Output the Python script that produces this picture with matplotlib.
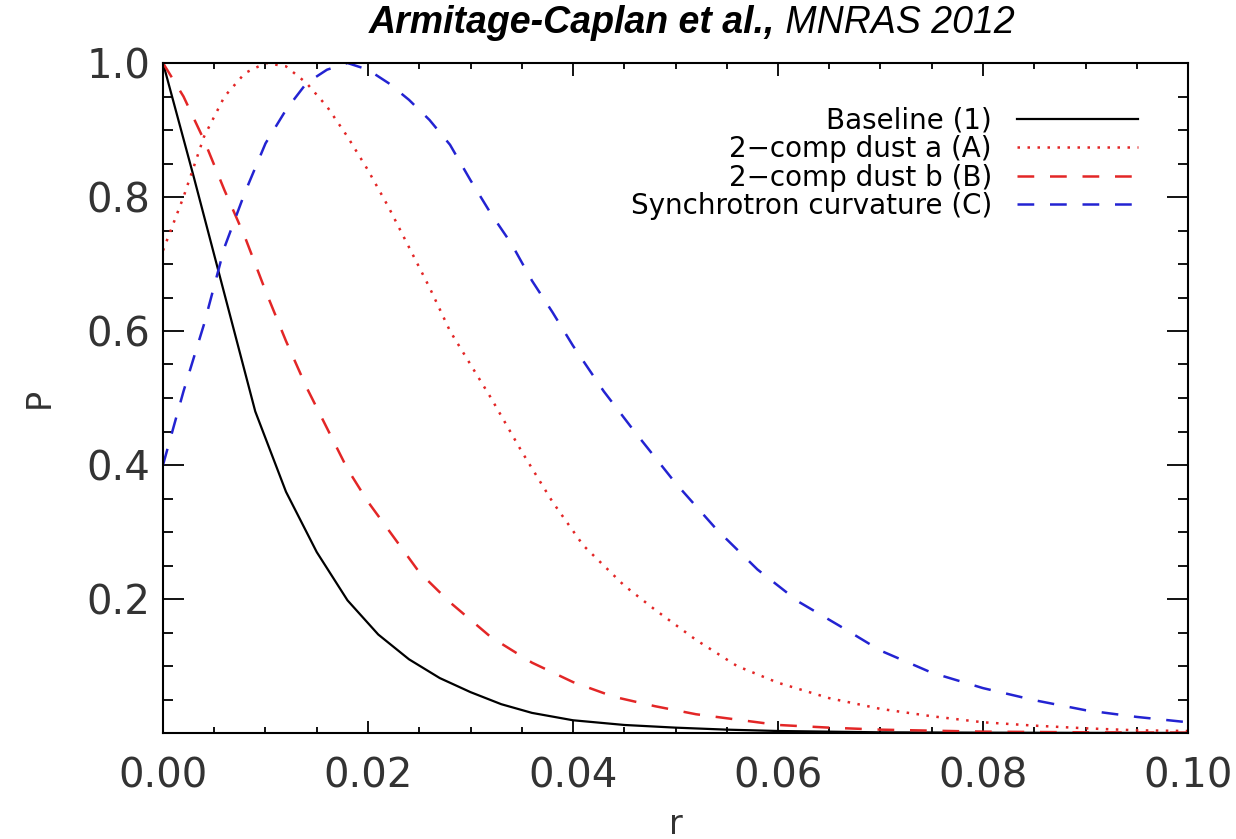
import numpy as np
import matplotlib
matplotlib.use("Agg")
import matplotlib.pyplot as plt
from matplotlib.ticker import MultipleLocator, FormatStrFormatter

# values
r_base = [0, 0.003, 0.006, 0.009, 0.012, 0.015, 0.018, 0.021, 0.024, 0.027, 0.030,
          0.033, 0.036, 0.040, 0.045, 0.050, 0.055, 0.060, 0.070, 0.080, 0.090, 0.100]
p_base = [1.0, 0.83, 0.655, 0.48, 0.36, 0.27, 0.198, 0.147, 0.11, 0.082, 0.061,
          0.043, 0.030, 0.019, 0.012, 0.008, 0.005, 0.003, 0.001, 0.0005, 0.0002, 0.0001]

r_a = [0, 0.002, 0.004, 0.006, 0.008, 0.010, 0.012, 0.014, 0.016, 0.018, 0.020,
       0.022, 0.024, 0.026, 0.028, 0.030, 0.032, 0.035, 0.038, 0.041, 0.045, 0.048,
       0.052, 0.056, 0.060, 0.065, 0.070, 0.075, 0.080, 0.085, 0.090, 0.095, 0.100]
p_a = [0.72, 0.80, 0.89, 0.95, 0.985, 1.0, 0.995, 0.97, 0.935, 0.89, 0.84,
       0.785, 0.725, 0.665, 0.60, 0.55, 0.50, 0.42, 0.345, 0.28, 0.22, 0.184,
       0.139, 0.10, 0.075, 0.052, 0.036, 0.025, 0.016, 0.011, 0.007, 0.004, 0.003]

r_b = [0, 0.002, 0.004, 0.006, 0.008, 0.010, 0.012, 0.014, 0.016, 0.018, 0.020,
       0.022, 0.025, 0.028, 0.032, 0.036, 0.040, 0.044, 0.048, 0.052, 0.056, 0.060,
       0.065, 0.070, 0.080, 0.090, 0.100]
p_b = [1.0, 0.95, 0.885, 0.81, 0.74, 0.66, 0.585, 0.516, 0.455, 0.394, 0.345,
       0.303, 0.24, 0.195, 0.143, 0.105, 0.076, 0.054, 0.04, 0.028, 0.02, 0.012,
       0.008, 0.005, 0.002, 0.001, 0.0005]

r_c = [0, 0.002, 0.004, 0.006, 0.008, 0.010, 0.012, 0.014, 0.016, 0.018, 0.020,
       0.022, 0.024, 0.026, 0.028, 0.030, 0.032, 0.034, 0.036, 0.038, 0.040, 0.043,
       0.046, 0.050, 0.054, 0.058, 0.062, 0.066, 0.070, 0.075, 0.080, 0.085, 0.090,
       0.095, 0.100]
p_c = [0.40, 0.51, 0.61, 0.725, 0.807, 0.88, 0.93, 0.97, 0.99, 1.0, 0.99,
       0.97, 0.945, 0.915, 0.878, 0.825, 0.775, 0.73, 0.675, 0.628, 0.578, 0.51,
       0.45, 0.373, 0.304, 0.244, 0.196, 0.16, 0.123, 0.09, 0.067, 0.049, 0.034,
       0.024, 0.016]

labels = ["Baseline (1)", "2\u2212comp dust a (A)", "2\u2212comp dust b (B)",
          "Synchrotron curvature (C)"]

red = "#e32626"
blue = "#2323d2"

fig = plt.figure(figsize=(12.36, 8.39), dpi=100)
ax = fig.add_axes([163 / 1236, 1 - 733 / 839, 1025 / 1236, 670 / 839])

ax.plot(r_base, p_base, color="black", lw=1.6, label=labels[0])
ax.plot(r_a, p_a, color=red, lw=1.8, linestyle=(0, (1, 3.0)), label=labels[1])
ax.plot(r_b, p_b, color=red, lw=1.8, linestyle=(0, (6.7, 6.3)), label=labels[2])
ax.plot(r_c, p_c, color=blue, lw=1.8, linestyle=(0, (6.7, 6.3)), label=labels[3])

ax.set_xlim(0, 0.1)
ax.set_ylim(0, 1.0)
ax.xaxis.set_major_locator(MultipleLocator(0.02))
ax.xaxis.set_minor_locator(MultipleLocator(0.005))
ax.set_yticks([0.2, 0.4, 0.6, 0.8, 1.0])
ax.yaxis.set_minor_locator(MultipleLocator(0.05))
ax.xaxis.set_major_formatter(FormatStrFormatter("%.2f"))
ax.yaxis.set_major_formatter(FormatStrFormatter("%.1f"))

ax.tick_params(axis="both", which="both", direction="in", top=True, right=True,
               width=1.3, colors="black", labelcolor="#333333", labelsize=29)
ax.tick_params(axis="x", which="major", length=9, pad=17)
ax.tick_params(axis="x", which="minor", length=4.5)
ax.tick_params(axis="y", which="major", length=15, pad=9)
ax.tick_params(axis="y", which="minor", length=7.5)
for s in ax.spines.values():
    s.set_linewidth(1.5)

ax.set_xlabel("r", fontsize=24, color="#333333", labelpad=8)
ax.set_ylabel("P", fontsize=24, color="#333333", labelpad=22)

ax.legend(loc="upper right", bbox_to_anchor=(0.951, 0.935), frameon=False,
          markerfirst=False, fontsize=20, handlelength=4.35, handletextpad=0.9,
          labelspacing=0.02, borderpad=0, borderaxespad=0)

fig.text(0.627, 0.973, "Armitage-Caplan et al.,", fontsize=27, style="italic",
         weight="bold", family="Liberation Sans", ha="right", va="center")
fig.text(0.627, 0.973, " MNRAS 2012", fontsize=27, style="italic",
         family="Liberation Sans", ha="left", va="center")

fig.savefig("out.png", dpi=100)
